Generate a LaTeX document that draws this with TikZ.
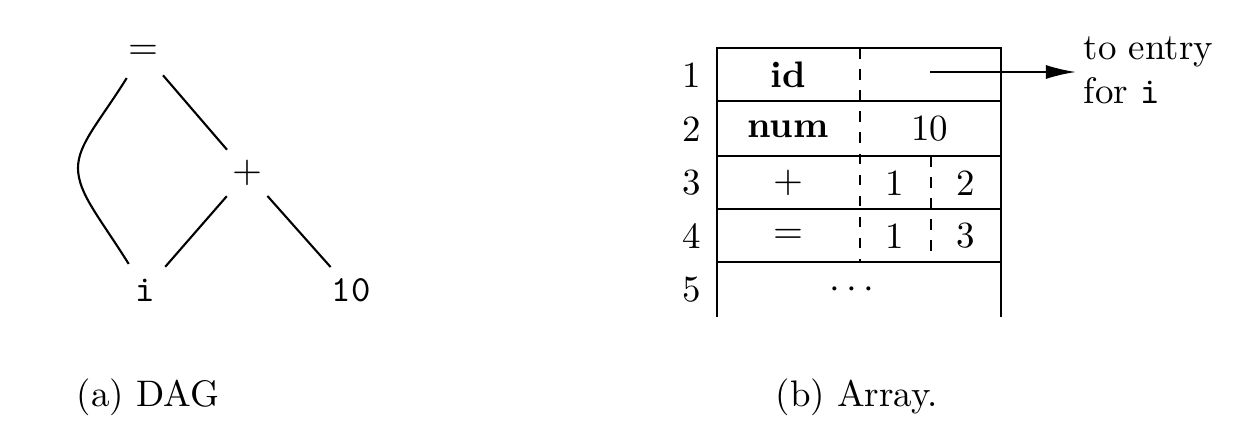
\documentclass[tikz,border=0pt]{standalone}
\usetikzlibrary{arrows.meta}
\begin{document}
\begin{tikzpicture}[x=0.01cm, y=0.01cm]
					\tikzstyle{every node}+=[inner sep=0pt, font=\fontsize{10.5pt}{12.5pt}\selectfont]
					\tikzstyle{dagnode}=[circle, minimum size=0.6cm]
					\tikzstyle{rule}=[line width=0.6pt]
					\useasboundingbox (0,0) rectangle (1238,-439);
					\node [dagnode] (eq) at (143,-52) {$=$};
					\node [dagnode] (plus) at (247,-173) {$+$};
					\node [dagnode] (i) at (145,-290) {\texttt{i}};
					\node [dagnode] (ten) at (351,-290) {\texttt{10}};
					\draw [rule] (eq) -- (plus);
					\draw [rule] (plus) -- (i);
					\draw [rule] (plus) -- (ten);
					\draw [rule] (eq) to [out=238, in=90, out looseness=1.3, in looseness=0.6] (78,-168)
						to [out=270, in=122, out looseness=0.6, in looseness=1.3] (i);
					\node [anchor=base west] (capa) at (76,-406) {(a) DAG};
					
					\draw [rule] (717,-317) -- (717,-48) -- (1001,-48) -- (1001,-317);
					\foreach \y in {101,156,209,262}
						\draw [rule] (717,-\y) -- (1001,-\y);
					\draw [rule, dashed] (860,-48) -- (860,-262);
					\draw [rule, dashed] (931,-156) -- (931,-262);
					\foreach \n/\y in {1/75,2/129,3/183,4/236,5/290}
						\node (r\n) at (692,-\y) {\n};
					\node (id) at (788,-75) {\textbf{id}};
					\node (num) at (788,-129) {\textbf{num}};
					\node (val) at (930,-129) {10};
					\node (plusop) at (788,-183) {$+$};
					\node (left3) at (895,-183) {1};
					\node (right3) at (966,-183) {2};
					\node (eqop) at (788,-236) {$=$};
					\node (left4) at (895,-236) {1};
					\node (right4) at (966,-236) {3};
					\node (dots) at (852,-290) {$\cdots$};
					\coordinate (ptr) at (930,-72);
					\node [anchor=base west, align=left, inner xsep=2pt] (entry) at (1076,-103) {to entry\\for \texttt{i}};
					\draw [rule, -{Latex[length=0.3cm, width=0.14cm]}] (ptr) -- (ptr -| entry.west);
					\node [anchor=base west] (capb) at (775,-406) {(b) Array.};
\end{tikzpicture}
\end{document}
